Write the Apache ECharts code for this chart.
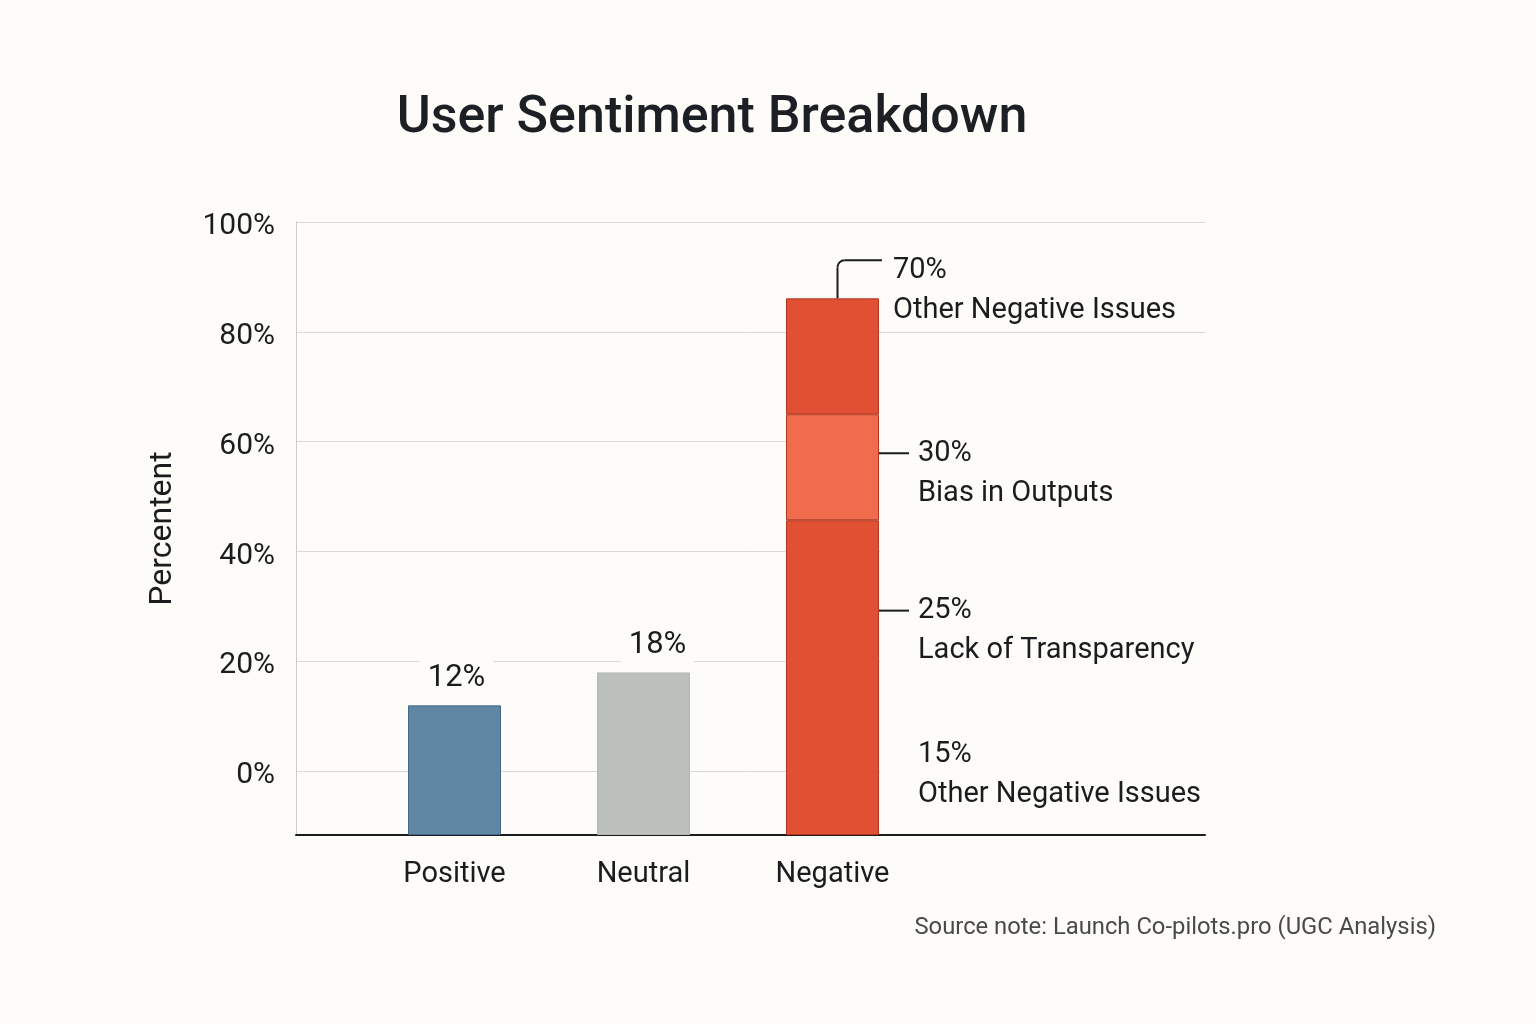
<!DOCTYPE html>
<html>
<head>
<meta charset="utf-8">
<title>User Sentiment Breakdown</title>
<script src="https://cdn.jsdelivr.net/npm/echarts@6/dist/echarts.min.js"></script>
<style>
  html, body { margin: 0; padding: 0; background: #fdfcf8; }
  #main { width: 1536px; height: 1024px; }
</style>
</head>
<body>
<div id="main"></div>
<script>
// categories and bar heights (%)
const categories = ['Positive', 'Neutral', 'Negative']
const mainValues = [12, 18, 45.7]
const biasValues = ['-', '-', 19.3]
const topValues = ['-', '-', 21.1]
const barLabels = ['12%', '18%', '']

// annotations beside the Negative bar
const notePct = ['70%', '30%', '25%', '15%']
const noteText = ['Other Negative Issues', 'Bias in Outputs', 'Lack of Transparency', 'Other Negative Issues']

// value axis: baseline sits a bit under 0%
const yMin = -11.6
const yMax = 100

const bg = '#fdfcf8'
const ink = '#1b1c1e'
const font = 'Roboto, "Noto Sans", sans-serif'
const barColors = ['#5f87a3', '#bcc0bd', '#e15033']
const borderColors = ['#41688a', '#b4b8b5', '#b5361f']
const biasColor = '#f06c4d'
const labelShift = [[2, 0], [14, 0]]

const chart = echarts.init(document.getElementById('main'))

const rich = {
  ln: { width: 30, height: 2, backgroundColor: ink },
  gap: { width: 9 },
  pad: { width: 39 },
  sp: { lineHeight: 64 }
}
const noteStyle = {
  fontFamily: font, fontSize: 29, lineHeight: 40, color: ink, rich: rich
}

const mainData = mainValues.map((v, i) => {
  const item = {
    value: v,
    itemStyle: { color: barColors[i], borderColor: borderColors[i], borderWidth: 1 }
  }
  if (i < 2) {
    item.label = {
      show: true, position: 'top', distance: 8, offset: labelShift[i],
      formatter: barLabels[i],
      fontFamily: font, fontSize: 31, color: ink,
      backgroundColor: bg, padding: [4, 8]
    }
  } else {
    item.label = Object.assign({
      show: true, position: 'right', distance: 0, offset: [0, 25],
      formatter: '{ln| }{gap| }' + notePct[2] + '\n{pad| }' + noteText[2] +
        '\n{sp| }\n{pad| }' + notePct[3] + '\n{pad| }' + noteText[3]
    }, noteStyle)
  }
  return item
})

const option = {
  backgroundColor: bg,
  animation: false,
  textStyle: { fontFamily: font },
  title: [{
    text: 'User Sentiment Breakdown',
    left: 707, top: 88, textAlign: 'center',
    textStyle: { fontFamily: font, fontSize: 52, fontWeight: 500, color: '#1c1f23' }
  }, {
    text: 'Source note: Launch Co-pilots.pro (UGC Analysis)',
    right: 95, top: 911,
    textStyle: { fontFamily: font, fontSize: 23.8, fontWeight: 'normal', color: '#4a4a4a' }
  }],
  grid: [
    { left: 296, right: 331, top: 222, bottom: 189 },
    { left: 360, width: 567, top: 222, bottom: 189 }
  ],
  xAxis: [{
    type: 'category', gridIndex: 0, data: categories,
    axisLine: { onZero: false, lineStyle: { color: ink, width: 2 } },
    axisTick: { show: false }, axisLabel: { show: false }
  }, {
    type: 'category', gridIndex: 1, data: categories,
    axisLine: { show: false, onZero: false }, axisTick: { show: false },
    axisLabel: { fontFamily: font, fontSize: 29, color: ink, margin: 25 }
  }],
  yAxis: [{
    type: 'value', gridIndex: 0, min: yMin, max: yMax, splitNumber: 5,
    name: 'Percentent', nameLocation: 'middle', nameGap: 117, nameRotate: 90,
    nameTextStyle: { fontFamily: font, fontSize: 32, color: ink },
    axisLine: { show: true, lineStyle: { color: '#cccccc', width: 1 } },
    axisTick: { show: false },
    axisLabel: {
      fontFamily: font, fontSize: 30, color: ink, margin: 21,
      formatter: v => (v < 0 ? '' : '{t|' + v + '%}'),
      rich: { t: { fontFamily: font, fontSize: 30, color: ink, padding: [9, 0, 0, 0] } }
    },
    splitLine: { lineStyle: { color: '#d9d9d9', width: 1 } }
  }, {
    type: 'value', gridIndex: 1, min: yMin, max: yMax, startValue: yMin,
    show: false, splitLine: { show: false }
  }],
  series: [{
    name: 'Sentiment', type: 'bar', xAxisIndex: 1, yAxisIndex: 1,
    stack: 'total', barWidth: 93, z: 2,
    data: mainData
  }, {
    name: noteText[1], type: 'bar', xAxisIndex: 1, yAxisIndex: 1,
    stack: 'total', barWidth: 93, z: 2,
    itemStyle: { color: biasColor, borderColor: borderColors[2], borderWidth: 1 },
    label: Object.assign({
      show: true, position: 'right', distance: 0, offset: [0, 6],
      formatter: '{ln| }{gap| }' + notePct[1] + '\n{pad| }' + noteText[1]
    }, noteStyle),
    data: biasValues
  }, {
    name: noteText[0], type: 'bar', xAxisIndex: 1, yAxisIndex: 1,
    stack: 'total', barWidth: 93, z: 2,
    itemStyle: { color: barColors[2], borderColor: borderColors[2], borderWidth: 1 },
    label: Object.assign({
      show: true, position: ['100%', 0], offset: [14, -48],
      align: 'left', verticalAlign: 'top',
      formatter: notePct[0] + '\n' + noteText[0]
    }, noteStyle),
    data: topValues
  }]
}

chart.setOption(option)

// leader line from the top of the Negative bar, and a blank panel
// to the right of the bar where the reference has no grid lines
const negTotal = mainValues[2] + biasValues[2] + topValues[2]
const topPt = chart.convertToPixel({ seriesIndex: 2 }, ['Negative', negTotal])
const barRight = topPt[0] + 93 / 2
const gridRight = chart.getWidth() - 331
const yHi = chart.convertToPixel({ yAxisIndex: 0 }, 70)
const yLo = chart.convertToPixel({ yAxisIndex: 0 }, -5)
const cx = topPt[0] + 5
const hy = topPt[1] - 38
const r = 7
const lead = { stroke: ink, lineWidth: 2, fill: null }

chart.setOption({
  graphic: [{
    type: 'rect', z: 1, silent: true,
    shape: { x: barRight + 1, y: yHi, width: gridRight - barRight + 2, height: yLo - yHi },
    style: { fill: bg }
  }, {
    type: 'line', z: 5, silent: true,
    shape: { x1: cx, y1: topPt[1], x2: cx, y2: hy + r },
    style: lead
  }, {
    type: 'arc', z: 5, silent: true,
    shape: { cx: cx + r, cy: hy + r, r: r, startAngle: Math.PI, endAngle: Math.PI * 1.5, clockwise: true },
    style: lead
  }, {
    type: 'line', z: 5, silent: true,
    shape: { x1: cx + r, y1: hy, x2: barRight + 3, y2: hy },
    style: lead
  }]
})
</script>
</body>
</html>
